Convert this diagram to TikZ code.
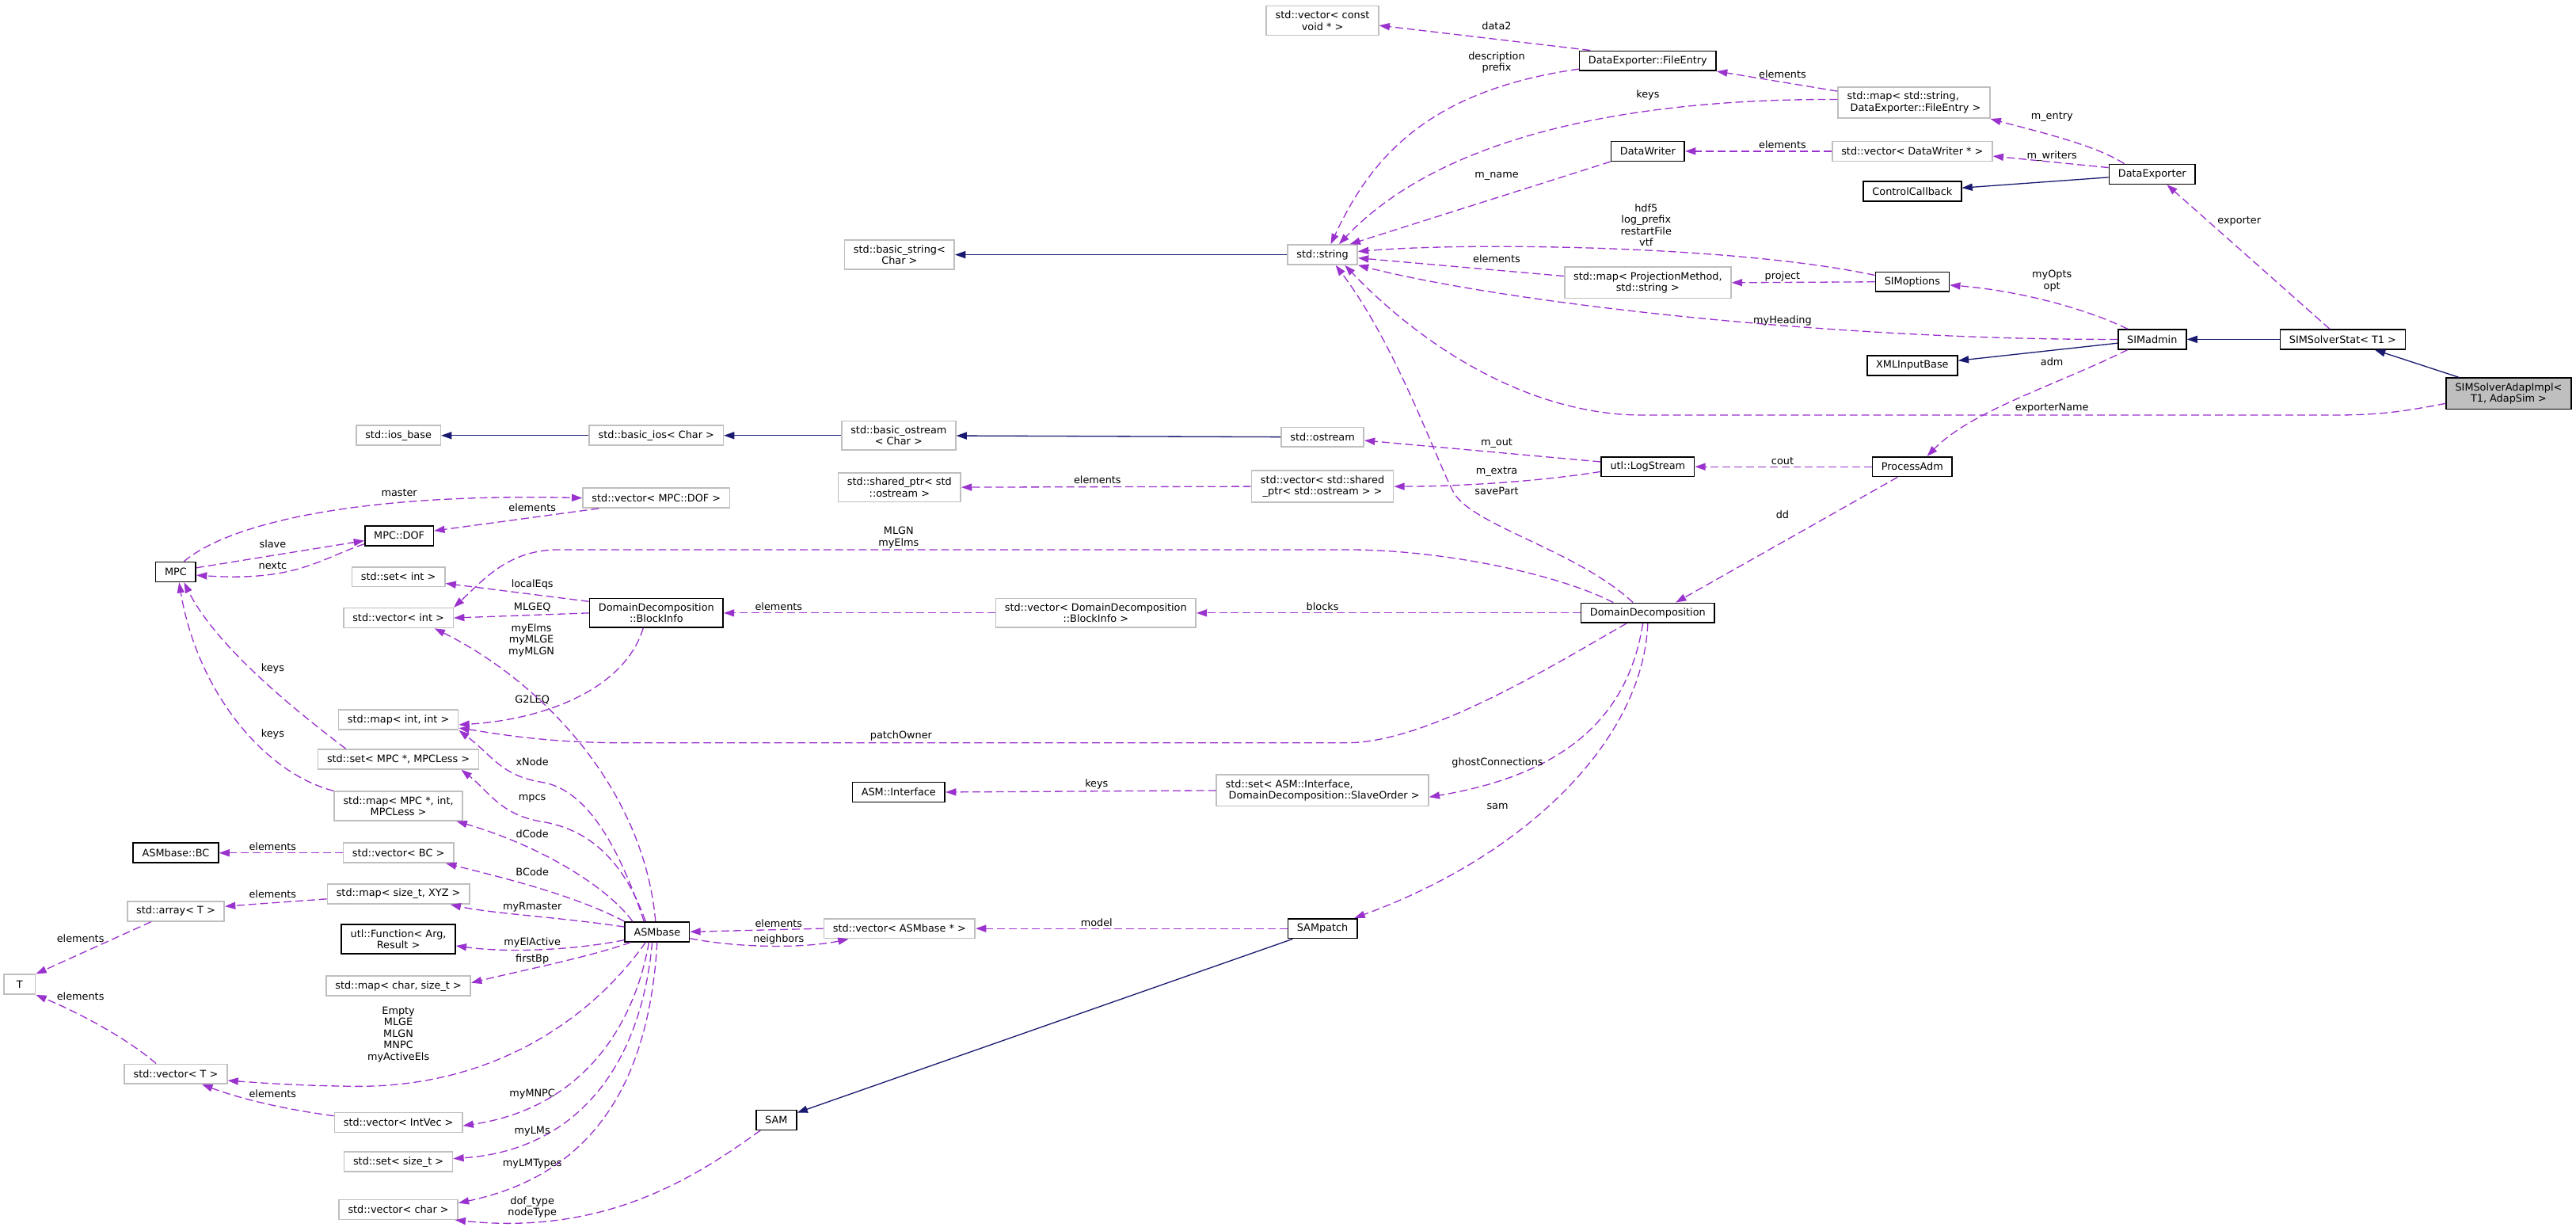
\documentclass[tikz,border=0pt]{standalone}
\usepackage{fontspec}
\setmainfont{DejaVu Sans}
\usetikzlibrary{arrows.meta}
\definecolor{depcol}{HTML}{9A32CD}
\definecolor{inhcol}{HTML}{191970}
\definecolor{lgray}{HTML}{BFBFBF}

\begin{document}
\begin{tikzpicture}[x=0.05cm, y=-0.05cm,
    every node/.style={font=\fontsize{8.8}{10}\selectfont},
    box/.style={draw=black, line width=1.1pt, fill=white, inner xsep=0.275cm, inner ysep=4.2pt, minimum height=0.6cm, align=center},
    sbox/.style={box, draw=lgray},
    dep/.style={draw=depcol, line width=0.9pt, dash pattern=on 6.8pt off 3.4pt, -{Triangle[length=0.32cm,width=0.22cm]}},
    inh/.style={draw=inhcol, line width=0.9pt, -{Triangle[length=0.32cm,width=0.22cm]}},
    lbl/.style={align=center, inner sep=0pt}]
\useasboundingbox (0,0) rectangle (1568,748.6);

\node[sbox] (vconst) at (805,12.5) {std::vector< const\\void * >};
\node[box] (fileentry) at (1003,37) {DataExporter::FileEntry};
\node[sbox, align=left] (mapfe) at (1165,62.5) {std::map< std::string,\\\ DataExporter::FileEntry >};
\node[box] (datawriter) at (1003,92) {DataWriter};
\node[sbox] (vecdw) at (1164,92) {std::vector< DataWriter * >};
\node[box] (dataexp) at (1310,106) {DataExporter};
\node[box] (ctrlcb) at (1164,116.5) {ControlCallback};
\node[sbox] (basicstring) at (547.5,155) {std::basic\_string<\\Char >};
\node[sbox] (stdstring) at (805,155) {std::string};
\node[box] (simopts) at (1164,171.5) {SIMoptions};
\node[sbox] (mappm) at (1003,172) {std::map< ProjectionMethod,\\std::string >};
\node[box] (simadmin) at (1310,206.5) {SIMadmin};
\node[box] (solverstat) at (1426,206.5) {SIMSolverStat< T1 >};
\node[box] (xmlinput) at (1164,222.5) {XMLInputBase};
\node[box, fill=lgray] (adap) at (1527,239.5) {SIMSolverAdapImpl<\\T1, AdapSim >};
\node[sbox] (iosbase) at (242.5,265) {std::ios\_base};
\node[sbox] (basicios) at (399.5,265) {std::basic\_ios< Char >};
\node[sbox] (basicostream) at (547,265) {std::basic\_ostream\\< Char >};
\node[sbox] (ostream) at (805,266) {std::ostream};
\node[box] (logstream) at (1003,284) {utl::LogStream};
\node[box] (procadm) at (1164,284) {ProcessAdm};
\node[sbox] (sharedptr) at (547.5,296.5) {std::shared\_ptr< std\\::ostream >};
\node[sbox] (vecshared) at (805,296) {std::vector< std::shared\\\_ptr< std::ostream > >};
\node[sbox] (vecdof) at (399.5,303) {std::vector< MPC::DOF >};
\node[box] (mpcdof) at (243,326) {MPC::DOF};
\node[box] (mpc) at (107,348) {MPC};
\node[sbox] (setint) at (242.5,351) {std::set< int >};
\node[sbox] (vecint) at (242.5,376) {std::vector< int >};
\node[box] (blockinfo) at (399.5,373) {DomainDecomposition\\::BlockInfo};
\node[sbox] (vecblock) at (667,373) {std::vector< DomainDecomposition\\::BlockInfo >};
\node[box] (domdec) at (1003,373) {DomainDecomposition};
\node[sbox] (mapint) at (242.5,438) {std::map< int, int >};
\node[sbox] (setmpc) at (242.5,462) {std::set< MPC *, MPCLess >};
\node[sbox] (mapmpc) at (242.5,490.5) {std::map< MPC *, int,\\MPCLess >};
\node[box] (asminterface) at (547,482) {ASM::Interface};
\node[sbox, align=left] (setasm) at (805,481) {std::set< ASM::Interface,\\\ DomainDecomposition::SlaveOrder >};
\node[box] (asmbc) at (107,519) {ASMbase::BC};
\node[sbox] (vecbc) at (242.5,519) {std::vector< BC >};
\node[sbox] (mapxyz) at (242.5,544) {std::map< size\_t, XYZ >};
\node[sbox] (arrayt) at (107,554.5) {std::array< T >};
\node[box] (asmbase) at (400,567) {ASMbase};
\node[sbox] (vecasm) at (547.5,565) {std::vector< ASMbase * >};
\node[box] (sampatch) at (805,565) {SAMpatch};
\node[box] (utlfunc) at (242.5,571.5) {utl::Function< Arg,\\Result >};
\node[sbox, minimum width=0.95cm] (t) at (12,599) {T};
\node[sbox] (mapchar) at (242.5,600) {std::map< char, size\_t >};
\node[sbox] (vect) at (107,653.5) {std::vector< T >};
\node[box] (sam) at (472.5,681.5) {SAM};
\node[sbox] (vecintvec) at (242.5,683) {std::vector< IntVec >};
\node[sbox] (setsizet) at (242.5,707) {std::set< size\_t >};
\node[sbox] (vecchar) at (242.5,736) {std::vector< char >};

\draw[inh] (adap) -- (solverstat);
\draw[inh] (solverstat) -- (simadmin);
\draw[inh] (simadmin) -- (xmlinput);
\draw[inh] (dataexp) -- (ctrlcb);
\draw[inh] (stdstring) -- (basicstring);
\draw[inh] (ostream) -- (basicostream);
\draw[inh] (basicostream) -- (basicios);
\draw[inh] (basicios) -- (iosbase);
\draw[inh] (sampatch) -- (sam);

\draw[dep] ([yshift=-0.3cm]adap.west) .. controls (1465,250) and (1450,252.6) .. (1420,252.6) -- (1000,252.6) .. controls (930,252.6) and (865,210) .. ([xshift=-0.4cm]stdstring.south east) node[lbl] at (1249,248.5) {exporterName};
\draw[dep] ([xshift=-0.4cm]solverstat.north) -- ([xshift=0.45cm]dataexp.south) node[lbl] at (1363,134.5) {exporter};
\draw[dep] ([xshift=-0.75cm]simadmin.north) .. controls (1270,188) and (1230,177) .. ([yshift=-0.1cm]simopts.east) node[lbl] at (1249,171) {myOpts\\opt};
\draw[dep] (simadmin.west) .. controls (1120,207) and (920,185) .. (stdstring.south east) node[lbl] at (1085,195) {myHeading};
\draw[dep] ([xshift=-0.75cm]simadmin.south) .. controls (1250,235) and (1200,250) .. ([xshift=0.45cm]procadm.north) node[lbl] at (1249,220) {adm};
\draw[dep] ([xshift=-0.85cm]dataexp.north) .. controls (1275,88) and (1240,80) .. (mapfe.south east) node[lbl] at (1249,71) {m\_entry};
\draw[dep] ([yshift=0.2cm]dataexp.west) -- ([yshift=-0.15cm]vecdw.east) node[lbl] at (1249,95) {m\_writers};
\draw[dep] ([yshift=0.35cm]mapfe.west) -- (fileentry.south east) node[lbl] at (1085,45) {elements};
\draw[dep] ([yshift=0.1cm]mapfe.west) .. controls (1000,60) and (880,80) .. ([xshift=0.5cm]stdstring.north) node[lbl] at (1003,58) {keys};
\draw[dep] ([xshift=0.35cm]fileentry.north west) -- ([yshift=-0.15cm]vconst.east) node[lbl] at (911,16) {data2};
\draw[dep] ([yshift=-0.25cm]fileentry.west) .. controls (870,55) and (835,95) .. ([xshift=0.25cm]stdstring.north) node[lbl] at (911,38) {description\\prefix};
\draw[dep] (vecdw.west) -- (datawriter.east) node[lbl] at (1085,88) {elements};
\draw[dep] (datawriter.south west) -- ([xshift=-0.25cm]stdstring.north east) node[lbl] at (911,107) {m\_name};
\draw[dep] ([yshift=0.2cm]simopts.west) .. controls (1060,150) and (900,147) .. ([yshift=0.1cm]stdstring.east) node[lbl] at (1002,137) {hdf5\\log\_prefix\\restartFile\\vtf};
\draw[dep] (simopts.west) -- (mappm.east) node[lbl] at (1085,168) {project};
\draw[dep] ([yshift=0.2cm]mappm.west) -- ([yshift=-0.1cm]stdstring.east) node[lbl] at (911,157.5) {elements};
\draw[dep] (procadm.west) -- (logstream.east) node[lbl] at (1085,280.5) {cout};
\draw[dep] ([xshift=-0.45cm]procadm.south) -- ([xshift=0.85cm]domdec.north) node[lbl] at (1085,313) {dd};
\draw[dep] ([yshift=0.15cm]logstream.west) -- ([yshift=-0.1cm]ostream.east) node[lbl] at (911,269.5) {m\_out};
\draw[dep] ([yshift=-0.15cm]logstream.west) .. controls (930,294) and (880,296) .. (vecshared.east) node[lbl] at (911,287) {m\_extra};
\draw[dep] (vecshared.west) -- (sharedptr.east) node[lbl] at (668,292) {elements};
\draw[dep] ([xshift=-0.45cm]domdec.north) .. controls (960,335) and (897,320) .. (885,300) .. controls (875,282) and (850,210) .. ([xshift=0.4cm]stdstring.south) node[lbl] at (911,299) {savePart};
\draw[dep] (domdec.west) -- (vecblock.east) node[lbl] at (805,369) {blocks};
\draw[dep] (vecblock.west) -- (blockinfo.east) node[lbl] at (474,369) {elements};
\draw[dep] ([xshift=-1.05cm]domdec.north) .. controls (950,350) and (880,334.5) .. (820,334.5) -- (340,334.5) .. controls (310,334.5) and (295,352) .. (vecint.north east) node[lbl] at (547,327) {MLGN\\myElms};
\draw[dep] ([xshift=-0.65cm]domdec.south) .. controls (950,402) and (870,452) .. (820,452) -- (380,452) .. controls (330,452) and (300,446) .. ([yshift=-0.25cm]mapint.east) node[lbl] at (548.5,448) {patchOwner};
\draw[dep] ([xshift=-0.15cm]domdec.south) .. controls (992,430) and (960,470) .. ([yshift=-0.2cm]setasm.east) node[lbl] at (911.5,464) {ghostConnections};
\draw[dep] (domdec.south) .. controls (1000,450) and (930,520) .. ([xshift=-0.1cm]sampatch.north east) node[lbl] at (911.5,490.5) {sam};
\draw[dep] (setasm.west) -- (asminterface.east) node[lbl] at (667.5,477) {keys};
\draw[dep] (sampatch.west) -- (vecasm.east) node[lbl] at (667.5,561.5) {model};
\draw[dep] (vecasm.west) -- (asmbase.east) node[lbl] at (474,562) {elements};
\draw[dep] ([yshift=-0.2cm]asmbase.east) .. controls (450,577) and (490,577) .. ([xshift=-1.55cm]vecasm.south) node[lbl] at (474,571.5) {neighbors};
\draw[dep] ([yshift=0.35cm]blockinfo.west) -- ([yshift=-0.2cm]setint.east) node[lbl] at (324,355.5) {localEqs};
\draw[dep] (blockinfo.west) -- (vecint.east) node[lbl] at (324,369.5) {MLGEQ};
\draw[dep] ([xshift=-0.4cm]blockinfo.south) .. controls (380,420) and (330,438) .. ([yshift=-0.15cm]mapint.east) node[lbl] at (324,426) {G2LEQ};
\draw[dep] ([xshift=-0.05cm]asmbase.north) .. controls (392,480) and (330,415) .. ([xshift=1.1cm]vecint.south) node[lbl] at (323.5,389.5) {myElms\\myMLGE\\myMLGN};
\draw[dep] ([xshift=-0.4cm]asmbase.north) .. controls (375,510) and (355,480) .. (330,476) .. controls (305,472) and (300,460) .. (mapint.south east) node[lbl] at (324,463.5) {xNode};
\draw[dep] ([xshift=-0.35cm]asmbase.north) .. controls (380,525) and (360,505) .. (330,500) .. controls (305,496) and (298,482) .. ([xshift=-0.55cm]setmpc.south east) node[lbl] at (324,486) {mpcs};
\draw[dep] ([xshift=-0.75cm]asmbase.north) .. controls (370,540) and (330,515) .. ([xshift=-0.2cm]mapmpc.south east) node[lbl] at (324,507.5) {dCode};
\draw[dep] (asmbase.north west) .. controls (350,545) and (310,535) .. ([xshift=-0.25cm]vecbc.south east) node[lbl] at (324,530.8) {BCode};
\draw[dep] ([yshift=0.15cm]asmbase.west) .. controls (340,558) and (300,556) .. ([xshift=-0.6cm]mapxyz.south east) node[lbl] at (324,552) {myRmaster};
\draw[dep] ([yshift=-0.25cm]asmbase.west) .. controls (350,578) and (310,580) .. ([yshift=-0.2cm]utlfunc.east) node[lbl] at (324,573.5) {myElActive};
\draw[dep] ([xshift=-0.8cm]asmbase.south) .. controls (360,582) and (320,590) .. ([yshift=0.1cm]mapchar.east) node[lbl] at (324,583.7) {firstBp};
\draw[dep] ([xshift=-0.35cm]asmbase.south) .. controls (360,620) and (300,662) .. (215,661) .. controls (180,660.5) and (160,659) .. ([yshift=-0.2cm]vect.east) node[lbl] at (242.5,629.5) {Empty\\MLGE\\MLGN\\MNPC\\myActiveEls};
\draw[dep] ([xshift=-0.25cm]asmbase.south) .. controls (385,630) and (350,675) .. ([yshift=-0.1cm]vecintvec.east) node[lbl] at (324,665.5) {myMNPC};
\draw[dep] ([xshift=-0.15cm]asmbase.south) .. controls (390,650) and (350,700) .. ([yshift=0.1cm]setsizet.east) node[lbl] at (324,688.5) {myLMs};
\draw[dep] (asmbase.south) .. controls (395,660) and (360,715) .. ([yshift=0.2cm]vecchar.east) node[lbl] at (324,708) {myLMTypes};
\draw[dep] ([xshift=0.15cm]sam.south west) .. controls (425,715) and (370,752) .. ([xshift=-0.1cm]vecchar.south east) node[lbl] at (324,734.5) {dof\_type\\nodeType};
\draw[dep] (vecbc.west) -- (asmbc.east) node[lbl] at (166,515) {elements};
\draw[dep] ([yshift=-0.15cm]mapxyz.west) -- ([yshift=0.15cm]arrayt.east) node[lbl] at (166,544) {elements};
\draw[dep] ([xshift=-0.75cm]arrayt.south) -- (t.north east) node[lbl] at (49,571) {elements};
\draw[dep] ([xshift=-0.6cm]vect.north) .. controls (75,630) and (45,615) .. (t.south east) node[lbl] at (49,606) {elements};
\draw[dep] ([yshift=0.2cm]vecintvec.west) .. controls (180,676) and (150,670) .. ([xshift=0.8cm]vect.south) node[lbl] at (166,665.7) {elements};
\draw[dep] ([yshift=0.125cm]mpc.east) -- ([yshift=-0.15cm]mpcdof.west) node[lbl] at (166,331) {slave};
\draw[dep] ([yshift=-0.25cm]mpcdof.west) .. controls (195,340) and (180,354) .. ([yshift=-0.1cm]mpc.east) node[lbl] at (166,344) {nextc};
\draw[dep] ([xshift=0.25cm]mpc.north) .. controls (140,318) and (220,300) .. (vecdof.west) node[lbl] at (243,300) {master};
\draw[dep] ([xshift=-1.75cm]vecdof.south) -- ([yshift=0.15cm]mpcdof.east) node[lbl] at (324,309) {elements};
\draw[dep] ([xshift=-1.6cm]setmpc.north) .. controls (170,425) and (130,390) .. ([xshift=0.25cm]mpc.south) node[lbl] at (166,407) {keys};
\draw[dep] (mapmpc.north west) .. controls (160,470) and (120,420) .. ([xshift=0.1cm]mpc.south) node[lbl] at (166,447) {keys};
\end{tikzpicture}
\end{document}
